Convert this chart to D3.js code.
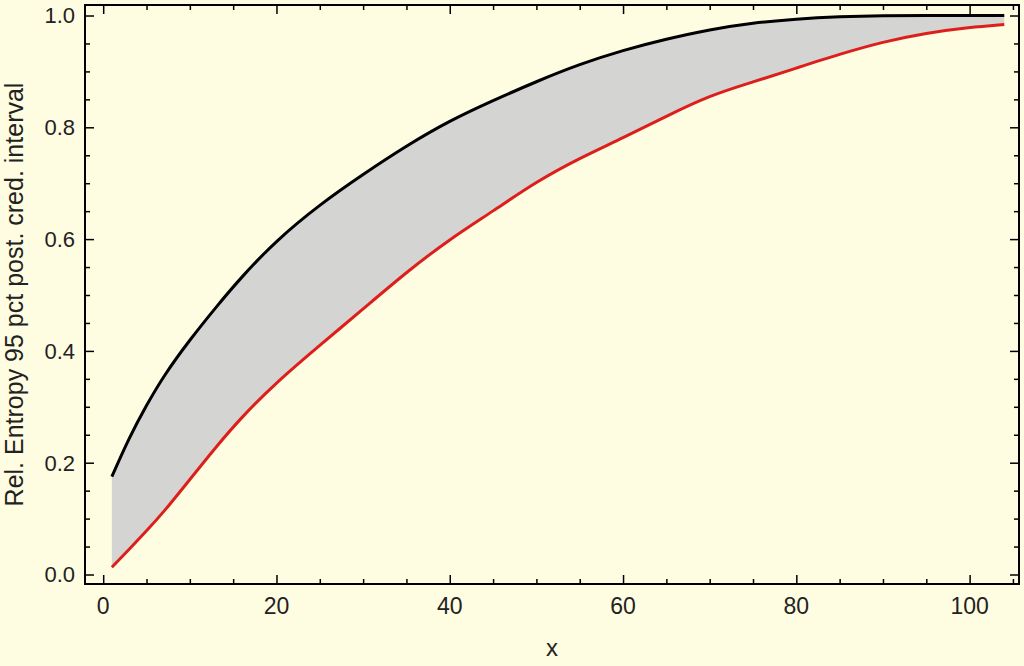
<!DOCTYPE html>
<html>
<head>
<meta charset="utf-8">
<script src="https://cdn.jsdelivr.net/npm/d3@7"></script>
<style>
  html, body { margin: 0; padding: 0; background: #fffde1; }
  svg { display: block; }
  text { font-family: "Liberation Sans", Arial, sans-serif; fill: #222; }
</style>
</head>
<body>
<svg id="chart" width="1024" height="666"></svg>
<script>
// ---- data ----
const xValues = [1, 3, 5, 7, 10, 13, 16, 20, 25, 30, 35, 40, 45, 50, 55, 60, 65, 70, 75, 80, 85, 90, 95, 100, 104];
const upperValues = [0.175, 0.245, 0.303, 0.356, 0.420, 0.478, 0.533, 0.598, 0.662, 0.716, 0.767, 0.812, 0.848, 0.882, 0.913, 0.938, 0.958, 0.975, 0.987, 0.994, 0.998, 1.0, 1.0, 1.0, 1.0];
const lowerValues = [0.013, 0.045, 0.078, 0.112, 0.170, 0.228, 0.282, 0.344, 0.410, 0.475, 0.541, 0.600, 0.650, 0.703, 0.745, 0.781, 0.820, 0.857, 0.881, 0.906, 0.931, 0.953, 0.969, 0.979, 0.984];
const xMajorTicks = [0, 20, 40, 60, 80, 100];
const yMajorTicks = [0.0, 0.2, 0.4, 0.6, 0.8, 1.0];
const xLabel = "x";
const yLabel = "Rel. Entropy 95 pct post. cred. interval";

const data = xValues.map((x, i) => ({ x, hi: upperValues[i], lo: lowerValues[i] }));

// ---- layout ----
const L = 85, R = 1019, T = 5, B = 584;
const svg = d3.select("#chart");

const x = d3.scaleLinear().domain([-2.1, 105.7]).range([L, R]);
const y = d3.scaleLinear().domain([-0.017, 1.0188]).range([B, T]);

const curve = d3.curveBasis;

// band
svg.append("path")
  .datum(data)
  .attr("fill", "#d4d4d2")
  .attr("d", d3.area().curve(curve).x(d => x(d.x)).y0(d => y(d.lo)).y1(d => y(d.hi)));

// lines
svg.append("path")
  .datum(data)
  .attr("fill", "none")
  .attr("stroke", "#000")
  .attr("stroke-width", 3)
  .attr("d", d3.line().curve(curve).x(d => x(d.x)).y(d => y(d.hi)));

svg.append("path")
  .datum(data)
  .attr("fill", "none")
  .attr("stroke", "#dc1f1c")
  .attr("stroke-width", 3)
  .attr("d", d3.line().curve(curve).x(d => x(d.x)).y(d => y(d.lo)));

// frame axes with inward ticks
const xMinor = d3.range(0, 106, 5).filter(v => !xMajorTicks.includes(v));
const yMinor = d3.range(0, 1.001, 0.05).map(v => +v.toFixed(2)).filter(v => !yMajorTicks.includes(v));

function addTicks(g, axisFn, scale, major, minor, majLen, minLen) {
  g.call(axisFn(scale).tickValues(major).tickSize(majLen).tickFormat("")).call(s => s.select(".domain").remove());
  g.call(gg => gg.append("g").call(axisFn(scale).tickValues(minor).tickSize(minLen).tickFormat("")).call(s => s.select(".domain").remove()));
  g.selectAll("line").attr("stroke", "#000").attr("stroke-width", 1.5);
}

addTicks(svg.append("g").attr("transform", `translate(0,${B})`), d3.axisTop, x, xMajorTicks, xMinor, 9, 5);
addTicks(svg.append("g").attr("transform", `translate(0,${T})`), d3.axisBottom, x, xMajorTicks, xMinor, 9, 5);
addTicks(svg.append("g").attr("transform", `translate(${L},0)`), d3.axisRight, y, yMajorTicks, yMinor, 9, 5);
addTicks(svg.append("g").attr("transform", `translate(${R},0)`), d3.axisLeft, y, yMajorTicks, yMinor, 9, 5);

// frame
svg.append("rect")
  .attr("x", L).attr("y", T).attr("width", R - L).attr("height", B - T)
  .attr("fill", "none").attr("stroke", "#000").attr("stroke-width", 2);

// tick labels
svg.append("g").selectAll("text").data(xMajorTicks).join("text")
  .attr("x", d => x(d)).attr("y", 614)
  .attr("text-anchor", "middle")
  .style("font-size", "23px")
  .text(d => d3.format("d")(d));

svg.append("g").selectAll("text").data(yMajorTicks).join("text")
  .attr("x", 75).attr("y", d => y(d))
  .attr("dy", "0.36em")
  .attr("text-anchor", "end")
  .style("font-size", "22px")
  .text(d => d3.format(".1f")(d));

// axis titles
svg.append("text")
  .attr("x", (L + R) / 2).attr("y", 656)
  .attr("text-anchor", "middle")
  .style("font-size", "24px")
  .text(xLabel);

svg.append("text")
  .attr("transform", `translate(23,${(T + B) / 2}) rotate(-90)`)
  .attr("text-anchor", "middle")
  .style("font-size", "25px")
  .text(yLabel);
</script>
</body>
</html>
